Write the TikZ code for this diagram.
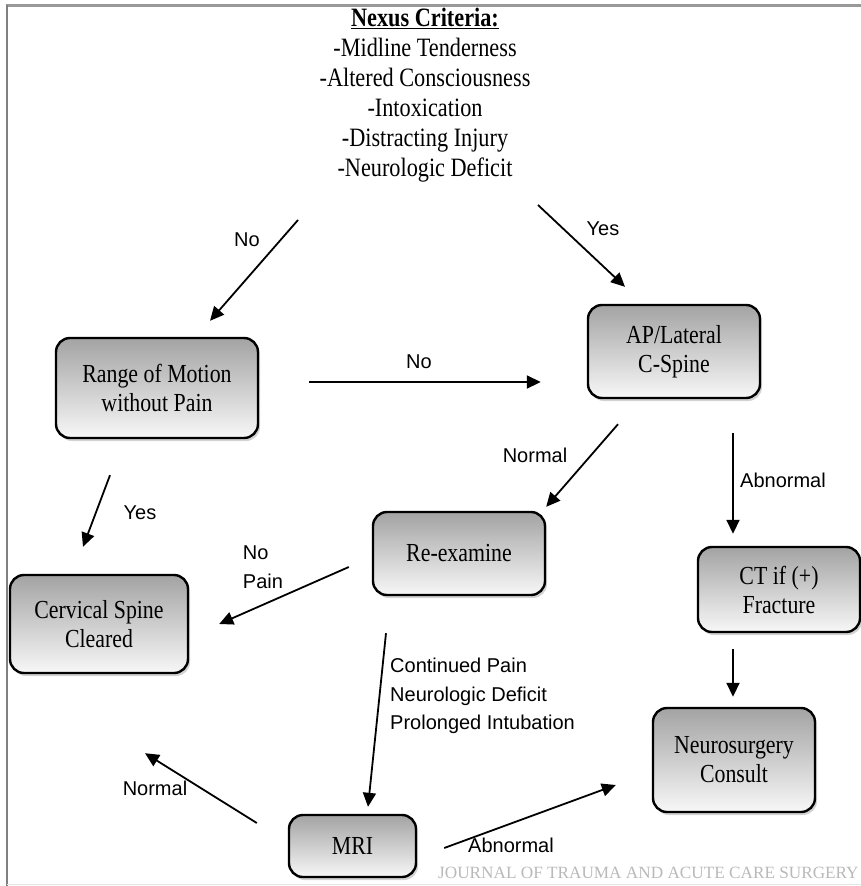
\documentclass[tikz,border=0pt]{standalone}
\usepackage{fontspec}
\setmainfont{Liberation Serif}[FakeStretch=0.84]
\newfontfamily\lblfont{Liberation Sans}
\newfontfamily\jrnlfont{Liberation Serif}
\usetikzlibrary{arrows.meta,shadows}

\begin{document}
\begin{tikzpicture}[x=1pt,y=-1pt,
    box/.style={draw=black, line width=2.4pt, rounded corners=14pt,
      top color=gray!72, bottom color=gray!6,
      drop shadow={shadow xshift=2pt, shadow yshift=-3pt, opacity=0.35},
      align=center, inner sep=0pt, font=\fontsize{26}{29}\selectfont},
    arr/.style={-{Triangle[length=14pt,width=13pt]}, line width=1.8pt},
    lbl/.style={inner sep=0pt, font=\lblfont\fontsize{20}{28.5}\selectfont}]
    \useasboundingbox (0,0) rectangle (861,886);
    % frame of the scanned figure
    \draw [gray!80, line width=3pt] (6,5) -- (861,5);
    \draw [gray, line width=2pt] (7,5) -- (7,886);
    \draw [gray!20] (7,884) -- (861,884);
    % criteria
    \node [anchor=south, inner sep=0pt, text depth=0pt, align=center,
      font=\fontsize{26.5}{30}\selectfont] (nexus) at (425,177)
      {\textbf{\underline{Nexus Criteria:}}\\-Midline Tenderness\\-Altered Consciousness\\
       -Intoxication\\-Distracting Injury\\-Neurologic Deficit};
    % boxes
    \node [box, minimum width=202pt, minimum height=100pt] (range) at (157,388) {Range of Motion\\without Pain};
    \node [box, minimum width=172pt, minimum height=93pt] (apx) at (674,351.5) {AP/Lateral\\C-Spine};
    \node [box, minimum width=178pt, minimum height=98pt] (cleared) at (99,624) {Cervical Spine\\Cleared};
    \node [box, minimum width=172pt, minimum height=83pt] (reexam) at (459,553.5) {Re-examine};
    \node [box, minimum width=162pt, minimum height=85pt] (ctscan) at (779,589.5) {CT if (+)\\Fracture};
    \node [box, minimum width=162pt, minimum height=104pt] (neuro) at (734,760) {Neurosurgery\\Consult};
    \node [box, minimum width=127pt, minimum height=62pt] (mri) at (352.5,846) {MRI};
    % arrows
    \draw [arr] ([shift={(-127,43)}]nexus.south) -- ([shift={(53,-16)}]range.north);
    \draw [arr] ([shift={(113,28)}]nexus.south) -- ([shift={(-49,-17)}]apx.north);
    \draw [arr] ([shift={(50,-6)}]range.east) -- ([shift={(-46,30.5)}]apx.west);
    \draw [arr] ([shift={(-56,25)}]apx.south) -- ([shift={(0,-4)}]reexam.north east);
    \draw [arr] ([shift={(59,34)}]apx.south) -- ([shift={(-46,-12)}]ctscan.north);
    \draw [arr] ([shift={(-47,36)}]range.south) -- ([shift={(-16,-27)}]cleared.north);
    \draw [arr] ([shift={(-23,13.5)}]reexam.west) -- ([shift={(30,0)}]cleared.east);
    \draw [arr] ([shift={(-73,37)}]reexam.south) -- ([shift={(15.5,-7)}]mri.north);
    \draw [arr] ([shift={(-46,16)}]ctscan.south) -- ([shift={(-1,-10)}]neuro.north);
    \draw [arr] ([shift={(-31,-23)}]mri.west) -- ([shift={(46,79)}]cleared.south);
    \draw [arr] ([shift={(27,2)}]mri.east) -- ([shift={(-36,25)}]neuro.west);
    % labels
    \node [lbl] (noL) at (247,240) {No};
    \node [lbl] (yesR) at (603,229) {Yes};
    \node [lbl] (noM) at (419,362) {No};
    \node [lbl] (normA) at (535,455) {Normal};
    \node [lbl] (abnA) at (783,480) {Abnormal};
    \node [lbl] (yesL) at (140,513) {Yes};
    \node [lbl, align=left] (nopain) at (263,567) {No\\Pain};
    \node [lbl, align=left, anchor=west] (reasons) at (390,696)
      {Continued Pain\\Neurologic Deficit\\Prolonged Intubation};
    \node [lbl] (normB) at (155,788) {Normal};
    \node [lbl] (abnB) at (511,845) {Abnormal};
    % journal mark
    \node [anchor=base west, inner sep=0pt, text=gray!55,
      font=\jrnlfont\fontsize{17.2}{20}\selectfont] (jrnl) at (438,878)
      {JOURNAL OF TRAUMA AND ACUTE CARE SURGERY};
\end{tikzpicture}
\end{document}
